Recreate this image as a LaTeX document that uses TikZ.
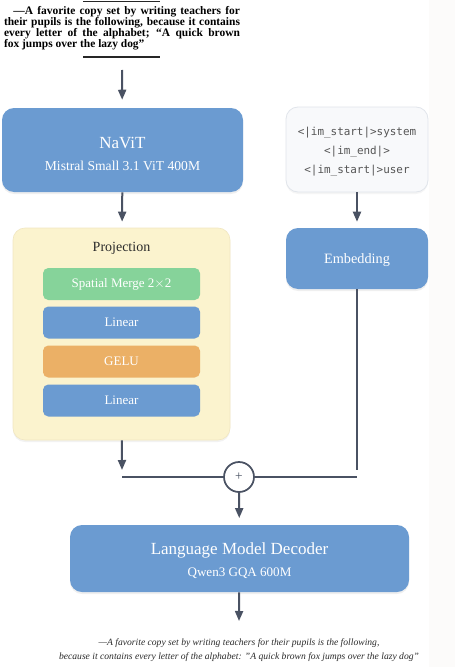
\documentclass[tikz,border=0pt]{standalone}
\usepackage{fontspec}
\setmainfont{Liberation Serif}
\setmonofont{DejaVu Sans Mono}
\usepackage{xcolor}
\usetikzlibrary{arrows.meta,shadows}
\definecolor{BL}{HTML}{6B9BD1}
\definecolor{GR}{HTML}{86D39A}
\definecolor{OR}{HTML}{EBB066}
\definecolor{YL}{HTML}{FBF3CE}
\definecolor{YB}{HTML}{F1E7C2}
\definecolor{TK}{HTML}{F8F9FB}
\definecolor{TB}{HTML}{E1E5EB}
\definecolor{LN}{HTML}{4A5263}
\definecolor{TX}{HTML}{2B2B2B}
\definecolor{SIDE}{HTML}{FCFBFA}
\tikzset{
  block/.style={rounded corners=9pt, fill=BL, draw=none, inner sep=0pt,
    drop shadow={opacity=0.12, shadow xshift=0pt, shadow yshift=-1.5pt}},
  layer/.style={rounded corners=4pt, draw=none, inner sep=0pt,
    minimum width=117.75pt, minimum height=24pt, text=white,
    font=\fontsize{9.75}{11}\selectfont},
  title/.style={text=white, font=\fontsize{12.75}{14}\selectfont},
  sub/.style={text=white, font=\fontsize{10.2}{12}\selectfont},
  flow/.style={draw=LN, line width=1.5pt, -{Triangle[width=6pt,length=7.5pt]}},
  wire/.style={draw=LN, line width=1.5pt},
}

\begin{document}
\begin{tikzpicture}[x=0.75pt, y=-0.75pt]%
\useasboundingbox (0,0) rectangle (455,667);%
\fill[white] (0,0) rectangle (455,667);%
\fill[SIDE] (429,0) rectangle (455,667);%
% scanned clipping
\draw[black!85, line width=0.8pt] (83,1.5) -- (160,1.5);%
\node[text width=177pt, align=justify, inner sep=0pt, font=\bfseries\fontsize{8.6}{8.3}\selectfont] (clip) at (122,28.5) {\hspace*{7pt}---A favorite copy set by writing teachers for\linebreak their pupils is the following, because it contains\linebreak every letter of the alphabet; ``A quick brown\linebreak fox jumps over the lazy dog''};%
\draw[black!85, line width=0.8pt] (83,57) -- (160,57);%
\coordinate (img) at (122,70);%
% top row
\node[block, minimum width=180.75pt, minimum height=63pt] (navit) at (122.5,150) {};%
\node[title] (navit-t) at (122.5,143) {NaViT};%
\node[sub] (navit-s) at (122.5,166) {Mistral Small 3.1 ViT 400M};%
\node[rounded corners=9pt, fill=TK, draw=TB, line width=0.6pt, minimum width=106.5pt, minimum height=63.75pt, inner sep=0pt, drop shadow={opacity=0.08, shadow xshift=0pt, shadow yshift=-1.5pt}] (tok) at (357,149.5) {};%
\node[text=TX!80, align=center, font=\ttfamily\fontsize{8.2}{14.2}\selectfont] (tok-t) at (357,152) {<|im\_start|>system\\<|im\_end|>\\<|im\_start|>user};%
% projection
\node[rounded corners=9pt, fill=YL, draw=YB, line width=0.5pt, minimum width=162.75pt, minimum height=159pt, inner sep=0pt, drop shadow={opacity=0.10, shadow xshift=0pt, shadow yshift=-1.5pt}] (proj) at (121.5,334) {};%
\node[text=TX, font=\fontsize{10.5}{12}\selectfont] (proj-t) at (121.5,248) {Projection};%
\node[layer, fill=GR] (merge) at (121.5,284) {Spatial Merge 2$\times$2};%
\node[layer, fill=BL] (lin1) at (121.5,322.5) {Linear};%
\node[layer, fill=OR] (gelu) at (121.5,361.5) {GELU};%
\node[layer, fill=BL] (lin2) at (121.5,400.5) {Linear};%
\node[block, minimum width=106.5pt, minimum height=45.75pt] (emb) at (357,258.5) {};%
\node[text=white, font=\fontsize{10.7}{12}\selectfont] (emb-t) at (357,260) {Embedding};%
% merge point
\coordinate (pj) at (122,470);%
\coordinate (ej) at (357,470);%
\coordinate (pl) at (122,477);%
\coordinate (el) at (357,477);%
\node[circle, draw=LN, line width=1.3pt, fill=white, minimum size=22.5pt, inner sep=0pt, text=LN, font=\fontsize{10}{10}\selectfont] (sum) at (239,477) {+};%
% decoder
\node[block, minimum width=254.25pt, minimum height=50.25pt] (dec) at (239.5,558.5) {};%
\node[title] (dec-t) at (239.5,550) {Language Model Decoder};%
\node[text=white, font=\fontsize{9.8}{12}\selectfont] (dec-s) at (239.5,573) {Qwen3 GQA 600M};%
\coordinate (out) at (239,621);%
% arrows
\draw[flow, shorten >=6pt] (img) -- (navit);%
\draw[flow, shorten >=4.5pt] (navit) -- (proj);%
\draw[flow, shorten >=4.5pt] (tok) -- (emb);%
\draw[flow] (proj) -- (pj);%
\draw[wire] (emb) -- (ej);%
\draw[wire] (pl) -- (sum) -- (el);%
\draw[flow, shorten >=5pt] (sum) -- (dec);%
\draw[flow] (dec) -- (out);%
% caption
\node[text=TX, align=center, font=\itshape\fontsize{7.2}{10.5}\selectfont] (cap) at (239,650) {---A favorite copy set by writing teachers for their pupils is the following,\\because it contains every letter of the alphabet: "A quick brown fox jumps over the lazy dog"};%
\end{tikzpicture}
\end{document}
